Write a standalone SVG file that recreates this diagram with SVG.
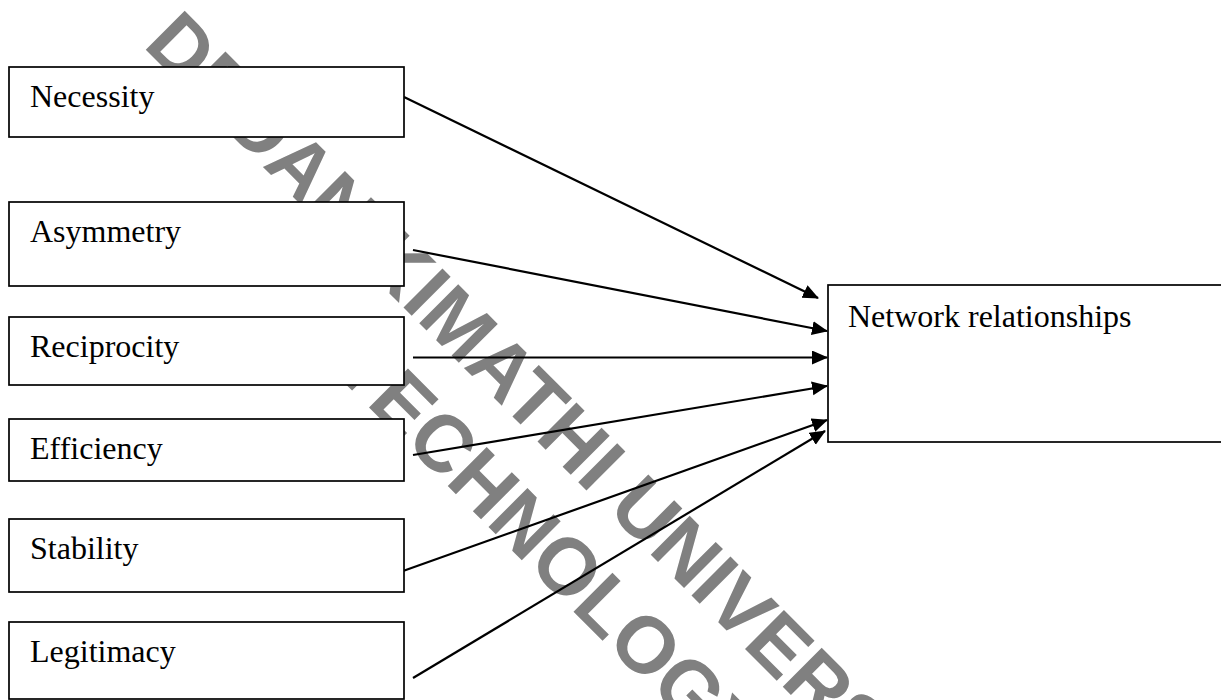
<svg xmlns="http://www.w3.org/2000/svg" width="1221" height="700" viewBox="0 0 1221 700">
  <style>
    .box { fill: #ffffff; stroke: #000000; stroke-width: 1.7; }
    .lbl { font-family: "Liberation Serif", "Times New Roman", serif; font-size: 32px; fill: #000000; }
    .wm { font-family: "Liberation Sans", Arial, sans-serif; font-weight: bold; font-size: 80px; fill: #808080; }
    .conn { stroke: #000000; stroke-width: 2.2; fill: none; marker-end: url(#arrow); }
  </style>
  <defs>
    <marker id="arrow" markerUnits="userSpaceOnUse" markerWidth="17" markerHeight="15" refX="15" refY="7" orient="auto">
      <path d="M0,0 L16,7 L0,14 Z" fill="#000000"/>
    </marker>
  </defs>
  <rect width="1221" height="700" fill="#ffffff"/>
  <g id="watermark" transform="translate(142,46) rotate(45)">
    <text class="wm" x="0" y="0">DEDAN KIMATHI UNIVERSITY OF</text>
    <text class="wm" x="362" y="95">TECHNOLOGY</text>
  </g>
  <g id="connectors">
    <line class="conn" x1="404" y1="97" x2="818" y2="298"/>
    <line class="conn" x1="413" y1="250" x2="827" y2="331"/>
    <line class="conn" x1="413" y1="357.5" x2="827" y2="357.5"/>
    <line class="conn" x1="413" y1="455" x2="827" y2="386"/>
    <line class="conn" x1="403" y1="571" x2="827" y2="420"/>
    <line class="conn" x1="413" y1="678" x2="825" y2="431"/>
  </g>
  <g id="necessity"><rect class="box" x="9" y="67" width="395" height="70"/><text class="lbl" x="30" y="107">Necessity</text></g>
  <g id="asymmetry"><rect class="box" x="9" y="202" width="395" height="84"/><text class="lbl" x="30" y="242">Asymmetry</text></g>
  <g id="reciprocity"><rect class="box" x="9" y="317" width="395" height="68"/><text class="lbl" x="30" y="357">Reciprocity</text></g>
  <g id="efficiency"><rect class="box" x="9" y="419" width="395" height="62"/><text class="lbl" x="30" y="459">Efficiency</text></g>
  <g id="stability"><rect class="box" x="9" y="519" width="395" height="73"/><text class="lbl" x="30" y="559">Stability</text></g>
  <g id="legitimacy"><rect class="box" x="9" y="622" width="395" height="77"/><text class="lbl" x="30" y="662">Legitimacy</text></g>
  <g id="network"><rect class="box" x="828" y="285" width="400" height="157"/><text class="lbl" x="848" y="327">Network relationships</text></g>
</svg>
